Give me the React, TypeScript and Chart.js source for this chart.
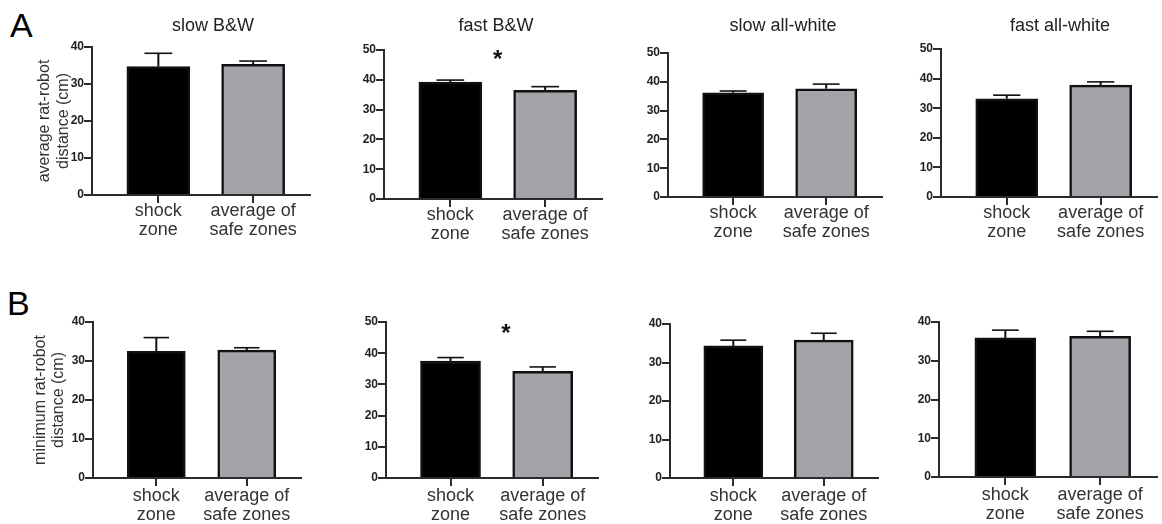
import React, { useEffect, useRef } from "react";
import { Chart, registerables } from "chart.js";

Chart.register(...registerables);

// ---- data ----
const categoryLabels = [["shock", "zone"], ["average of", "safe zones"]];
const conditions = ["slow B&W", "fast B&W", "slow all-white", "fast all-white"];

// average rat-robot distance (cm): mean and SEM for [shock zone, average of safe zones]
const avgSlowBW = [34.7, 35.3];
const avgSlowBWSem = [3.6, 0.9];
const avgFastBW = [39.2, 36.5];
const avgFastBWSem = [0.7, 1.2];
const avgSlowAW = [36.2, 37.6];
const avgSlowAWSem = [0.6, 1.6];
const avgFastAW = [33.2, 37.8];
const avgFastAWSem = [1.2, 1.1];

// minimum rat-robot distance (cm)
const minSlowBW = [32.5, 32.8];
const minSlowBWSem = [3.5, 0.6];
const minFastBW = [37.5, 34.2];
const minFastBWSem = [1.1, 1.4];
const minSlowAW = [34.3, 35.8];
const minSlowAWSem = [1.5, 1.8];
const minFastAW = [35.9, 36.3];
const minFastAWSem = [2.0, 1.3];

const avgYMax = [40, 50, 50, 50];
const minYMax = [40, 50, 40, 40];
const yTickStep = 10;
const significant = [false, true, false, false];
// significance marker position (x in category units, y in cm)
const starAvg = [0.5, 48.8];
const starMin = [0.6, 48.2];

// ---- styling / layout ----
const FONT = "'Liberation Sans', Arial, Helvetica, sans-serif";
const AXIS = "#2b2b2b";
const EDGE = "#111111";
const BLACK = "#000000";
const GREY = "#a4a3a9";
const X_MIN = -0.7;
const X_MAX = 1.6;

const COLS: [number, number][] = [[0, 330], [330, 615], [615, 895], [895, 1162]];
const ROWS: [number, number][] = [[0, 258], [258, 524]];

type Frame = { left: number; right: number; top: number; bottom: number; bar: number };

const framesA: Frame[] = [
  { left: 92, right: 310, top: 47, bottom: 195, bar: 63 },
  { left: 384, right: 602, top: 50, bottom: 199, bar: 63 },
  { left: 668, right: 882, top: 53, bottom: 197, bar: 61 },
  { left: 941, right: 1157, top: 49, bottom: 197, bar: 62 },
];
const framesB: Frame[] = [
  { left: 93, right: 301, top: 322, bottom: 478, bar: 58 },
  { left: 386, right: 598, top: 322, bottom: 478, bar: 60 },
  { left: 670, right: 878, top: 324, bottom: 478, bar: 59 },
  { left: 939, right: 1157, top: 322, bottom: 477, bar: 61 },
];

// panel heading centres (page coordinates)
const titleCenterX = [213, 496, 783, 1060];
const TITLE_Y = 26;

type PanelProps = {
  col: number;
  row: number;
  frame: Frame;
  means: number[];
  sems: number[];
  yMax: number;
  title?: string;
  yTitle?: string[];
  yTitlePad?: number;
  labelPad?: number;
  star?: number[] | null;
};

function Panel({
  col,
  row,
  frame,
  means,
  sems,
  yMax,
  title,
  yTitle,
  yTitlePad = 0,
  labelPad = 0,
  star = null,
}: PanelProps) {
  const ref = useRef<HTMLCanvasElement | null>(null);
  const [cl, cr] = COLS[col];
  const [ct, cb] = ROWS[row];
  const width = cr - cl;
  const height = cb - ct;

  useEffect(() => {
    if (!ref.current) return;

    const heading = {
      id: "heading",
      afterDraw(chart: any) {
        if (!title) return;
        const ctx = chart.ctx;
        ctx.save();
        ctx.fillStyle = "#222";
        ctx.font = `18px ${FONT}`;
        ctx.textAlign = "center";
        ctx.textBaseline = "middle";
        ctx.fillText(title, titleCenterX[col] - cl, TITLE_Y - ct);
        ctx.restore();
      },
    };

    const categoryTicks = {
      id: "categoryTicks",
      afterDraw(chart: any) {
        const xs = chart.scales.x;
        const ctx = chart.ctx;
        const base = chart.chartArea.bottom;
        ctx.save();
        ctx.strokeStyle = AXIS;
        ctx.lineWidth = 2;
        categoryLabels.forEach((_, i) => {
          const px = Math.round(xs.getPixelForValue(i));
          ctx.beginPath();
          ctx.moveTo(px, base);
          ctx.lineTo(px, base + 8);
          ctx.stroke();
        });
        ctx.restore();
      },
    };

    const errorBars = {
      id: "errorBars",
      afterDatasetsDraw(chart: any) {
        const meta = chart.getDatasetMeta(0);
        const yScale = chart.scales.y;
        const ctx = chart.ctx;
        ctx.save();
        ctx.strokeStyle = EDGE;
        meta.data.forEach((bar: any, i: number) => {
          const { x, y, width: w } = bar.getProps(["x", "y", "width"], true);
          const end = yScale.getPixelForValue(means[i] + sems[i]);
          ctx.lineWidth = 2;
          ctx.beginPath();
          ctx.moveTo(x, y);
          ctx.lineTo(x, end);
          ctx.stroke();
          ctx.lineWidth = 1.6;
          ctx.beginPath();
          ctx.moveTo(x - w * 0.22, end);
          ctx.lineTo(x + w * 0.22, end);
          ctx.stroke();
        });
        ctx.restore();
      },
    };

    const sigStar = {
      id: "sigStar",
      afterDatasetsDraw(chart: any) {
        if (!star) return;
        const ctx = chart.ctx;
        const x = chart.scales.x.getPixelForValue(star[0]);
        const y = chart.scales.y.getPixelForValue(star[1]);
        ctx.save();
        ctx.fillStyle = "#111";
        ctx.font = `bold 24px ${FONT}`;
        ctx.textAlign = "center";
        ctx.textBaseline = "alphabetic";
        ctx.fillText("*", x, y + 13);
        ctx.restore();
      },
    };

    const chart = new Chart(ref.current, {
      type: "bar",
      data: {
        datasets: [
          {
            data: means.map((m, i) => ({ x: i, y: m })),
            backgroundColor: [BLACK, GREY],
            borderColor: EDGE,
            borderWidth: 2.5,
            barThickness: frame.bar,
            borderSkipped: "start",
          } as any,
        ],
      },
      options: {
        animation: false,
        responsive: false,
        devicePixelRatio: 1,
        layout: {
          padding: {
            left: 0,
            right: cr - frame.right,
            top: frame.top - ct,
            bottom: 0,
          },
        },
        plugins: {
          legend: { display: false },
          tooltip: { enabled: false },
          title: { display: false },
        },
        scales: {
          x: {
            type: "linear",
            min: X_MIN,
            max: X_MAX,
            offset: false,
            afterBuildTicks: (s: any) => {
              s.ticks = categoryLabels.map((_, i) => ({ value: i }));
            },
            afterFit: (s: any) => {
              s.height = cb - frame.bottom;
            },
            ticks: {
              autoSkip: false,
              maxRotation: 0,
              minRotation: 0,
              padding: labelPad,
              color: "#333",
              font: { family: FONT, size: 18, lineHeight: 19 / 18 },
              callback: (v: any) => categoryLabels[Math.round(Number(v))] ?? "",
            },
            grid: {
              offset: false,
              drawOnChartArea: false,
              drawTicks: true,
              tickLength: 8,
              color: AXIS,
              lineWidth: 2,
            },
            border: { display: true, color: AXIS, width: 2 },
          } as any,
          y: {
            min: 0,
            max: yMax,
            afterFit: (s: any) => {
              s.width = frame.left - cl;
            },
            ticks: {
              stepSize: yTickStep,
              padding: 0,
              color: "#222",
              font: { family: FONT, size: 12, weight: "bold" },
            },
            grid: { drawOnChartArea: false, drawTicks: true, tickLength: 8, color: AXIS, lineWidth: 2 },
            border: { display: true, color: AXIS, width: 2 },
            title: yTitle
              ? {
                  display: true,
                  text: yTitle,
                  color: "#333",
                  font: { family: FONT, size: 16, lineHeight: 1.15 },
                  padding: { top: yTitlePad, bottom: 0 },
                }
              : { display: false },
          } as any,
        },
      },
      plugins: [errorBars, sigStar, categoryTicks, heading],
    });
    return () => chart.destroy();
  }, []);

  return (
    <canvas
      ref={ref}
      width={width}
      height={height}
      style={{ position: "absolute", left: cl, top: ct, width, height }}
    />
  );
}

const avgMeans = [avgSlowBW, avgFastBW, avgSlowAW, avgFastAW];
const avgSems = [avgSlowBWSem, avgFastBWSem, avgSlowAWSem, avgFastAWSem];
const minMeans = [minSlowBW, minFastBW, minSlowAW, minFastAW];
const minSems = [minSlowBWSem, minFastBWSem, minSlowAWSem, minFastAWSem];

export default function App() {
  const letter: React.CSSProperties = {
    position: "absolute",
    fontFamily: FONT,
    fontSize: 34,
    lineHeight: "34px",
    color: "#000",
  };
  return (
    <div
      style={{
        position: "fixed",
        left: 0,
        top: 0,
        width: 1162,
        height: 524,
        background: "#fff",
        overflow: "hidden",
      }}
    >
      <div style={{ ...letter, left: 10, top: 7.5 }}>A</div>
      <div style={{ ...letter, left: 7, top: 285.5 }}>B</div>
      {conditions.map((c, i) => (
        <Panel
          key={"a" + i}
          col={i}
          row={0}
          frame={framesA[i]}
          means={avgMeans[i]}
          sems={avgSems[i]}
          yMax={avgYMax[i]}
          title={c}
          yTitle={i === 0 ? ["average rat-robot", "distance (cm)"] : undefined}
          yTitlePad={35.5}
          labelPad={-1}
          star={significant[i] ? starAvg : null}
        />
      ))}
      {conditions.map((c, i) => (
        <Panel
          key={"b" + i}
          col={i}
          row={1}
          frame={framesB[i]}
          means={minMeans[i]}
          sems={minSems[i]}
          yMax={minYMax[i]}
          yTitle={i === 0 ? ["minimum rat-robot", "distance (cm)"] : undefined}
          yTitlePad={31}
          labelPad={1}
          star={significant[i] ? starMin : null}
        />
      ))}
    </div>
  );
}
